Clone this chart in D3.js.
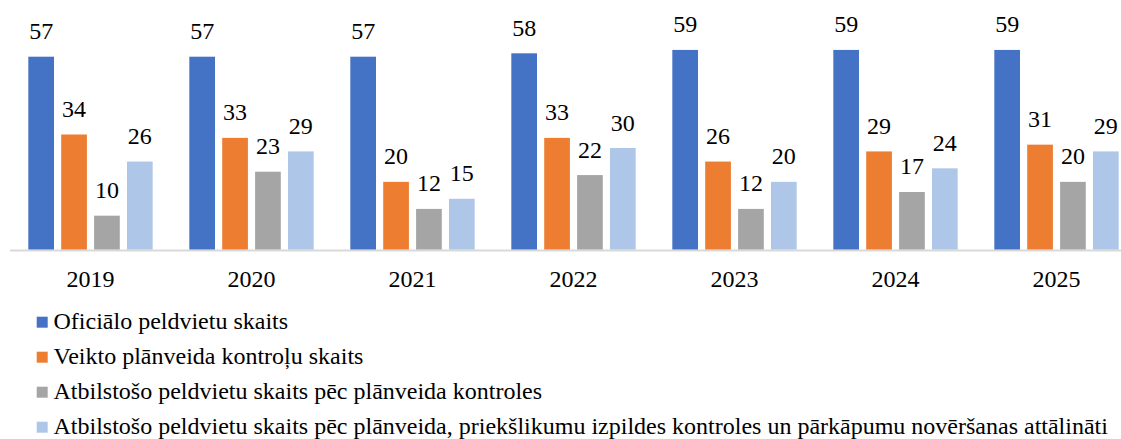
<!DOCTYPE html>
<html>
<head>
<meta charset="utf-8">
<script src="https://cdn.jsdelivr.net/npm/d3@7"></script>
<style>
  body { margin: 0; background: #fff; }
</style>
</head>
<body>
<div id="chart"></div>
<script>
var years = ["2019", "2020", "2021", "2022", "2023", "2024", "2025"];
var seriesNames = [
  "Oficiālo peldvietu skaits",
  "Veikto plānveida kontroļu skaits",
  "Atbilstošo peldvietu skaits pēc plānveida kontroles",
  "Atbilstošo peldvietu skaits pēc plānveida, priekšlikumu izpildes kontroles un pārkāpumu novēršanas attālināti"
];
var oficialo   = [57, 57, 57, 58, 59, 59, 59];
var kontrolu   = [34, 33, 20, 33, 26, 29, 31];
var atbilstPec = [10, 23, 12, 22, 12, 17, 20];
var atbilstAtt = [26, 29, 15, 30, 20, 24, 29];
var colors = ["#4472c4", "#ed7d31", "#a5a5a5", "#aec6e8"];

var allSeries = [oficialo, kontrolu, atbilstPec, atbilstAtt];

var width = 1121, height = 439;
var baseY = 249.5;
var serif = "'Liberation Serif', 'Times New Roman', serif";
var fontSize = "24px";

var svg = d3.select("#chart").append("svg")
  .attr("width", width)
  .attr("height", height);

var x0 = d3.scaleBand()
  .domain(years)
  .range([10, 10 + 161 * years.length]);

var x1 = d3.scaleBand()
  .domain(d3.range(seriesNames.length))
  .range([14.7, 146.3])
  .paddingInner(0.219)
  .paddingOuter(0.11);

var y = d3.scaleLinear()
  .domain([0, 57])
  .range([baseY, 56.7]);

// axis line
svg.append("line")
  .attr("x1", 10).attr("x2", width)
  .attr("y1", baseY + 1).attr("y2", baseY + 1)
  .attr("stroke", "#d9d9d9")
  .attr("stroke-width", 2);

var groups = svg.selectAll(".yr")
  .data(years)
  .enter()
  .append("g")
  .attr("class", "yr")
  .attr("transform", function(d) { return "translate(" + x0(d) + ",0)"; });

groups.selectAll("rect")
  .data(function(d, i) { return allSeries.map(function(s, k) { return {k: k, v: s[i]}; }); })
  .enter()
  .append("rect")
  .attr("x", function(d) { return x1(d.k); })
  .attr("width", x1.bandwidth())
  .attr("y", function(d) { return y(d.v); })
  .attr("height", function(d) { return baseY - y(d.v); })
  .attr("fill", function(d) { return colors[d.k]; });

groups.selectAll(".val")
  .data(function(d, i) { return allSeries.map(function(s, k) { return {k: k, v: s[i]}; }); })
  .enter()
  .append("text")
  .attr("class", "val")
  .attr("x", function(d) { return x1(d.k) + x1.bandwidth() / 2; })
  .attr("y", function(d) { return y(d.v) - 17.5; })
  .attr("text-anchor", "middle")
  .style("font-family", serif)
  .style("font-size", fontSize)
  .text(function(d) { return d.v; });

groups.append("text")
  .attr("x", x0.bandwidth() / 2)
  .attr("y", 287)
  .attr("text-anchor", "middle")
  .style("font-family", serif)
  .style("font-size", fontSize)
  .text(function(d) { return d; });

// legend
var legend = svg.selectAll(".legend")
  .data(seriesNames)
  .enter()
  .append("g")
  .attr("class", "legend")
  .attr("transform", function(d, i) { return "translate(0," + (316.7 + i * 35) + ")"; });

legend.append("rect")
  .attr("x", 36.7)
  .attr("y", 0)
  .attr("width", 11)
  .attr("height", 11)
  .attr("fill", function(d, i) { return colors[i]; });

legend.append("text")
  .attr("x", 53.5)
  .attr("y", 12)
  .style("font-family", serif)
  .style("font-size", fontSize)
  .text(function(d) { return d; });
</script>
</body>
</html>
